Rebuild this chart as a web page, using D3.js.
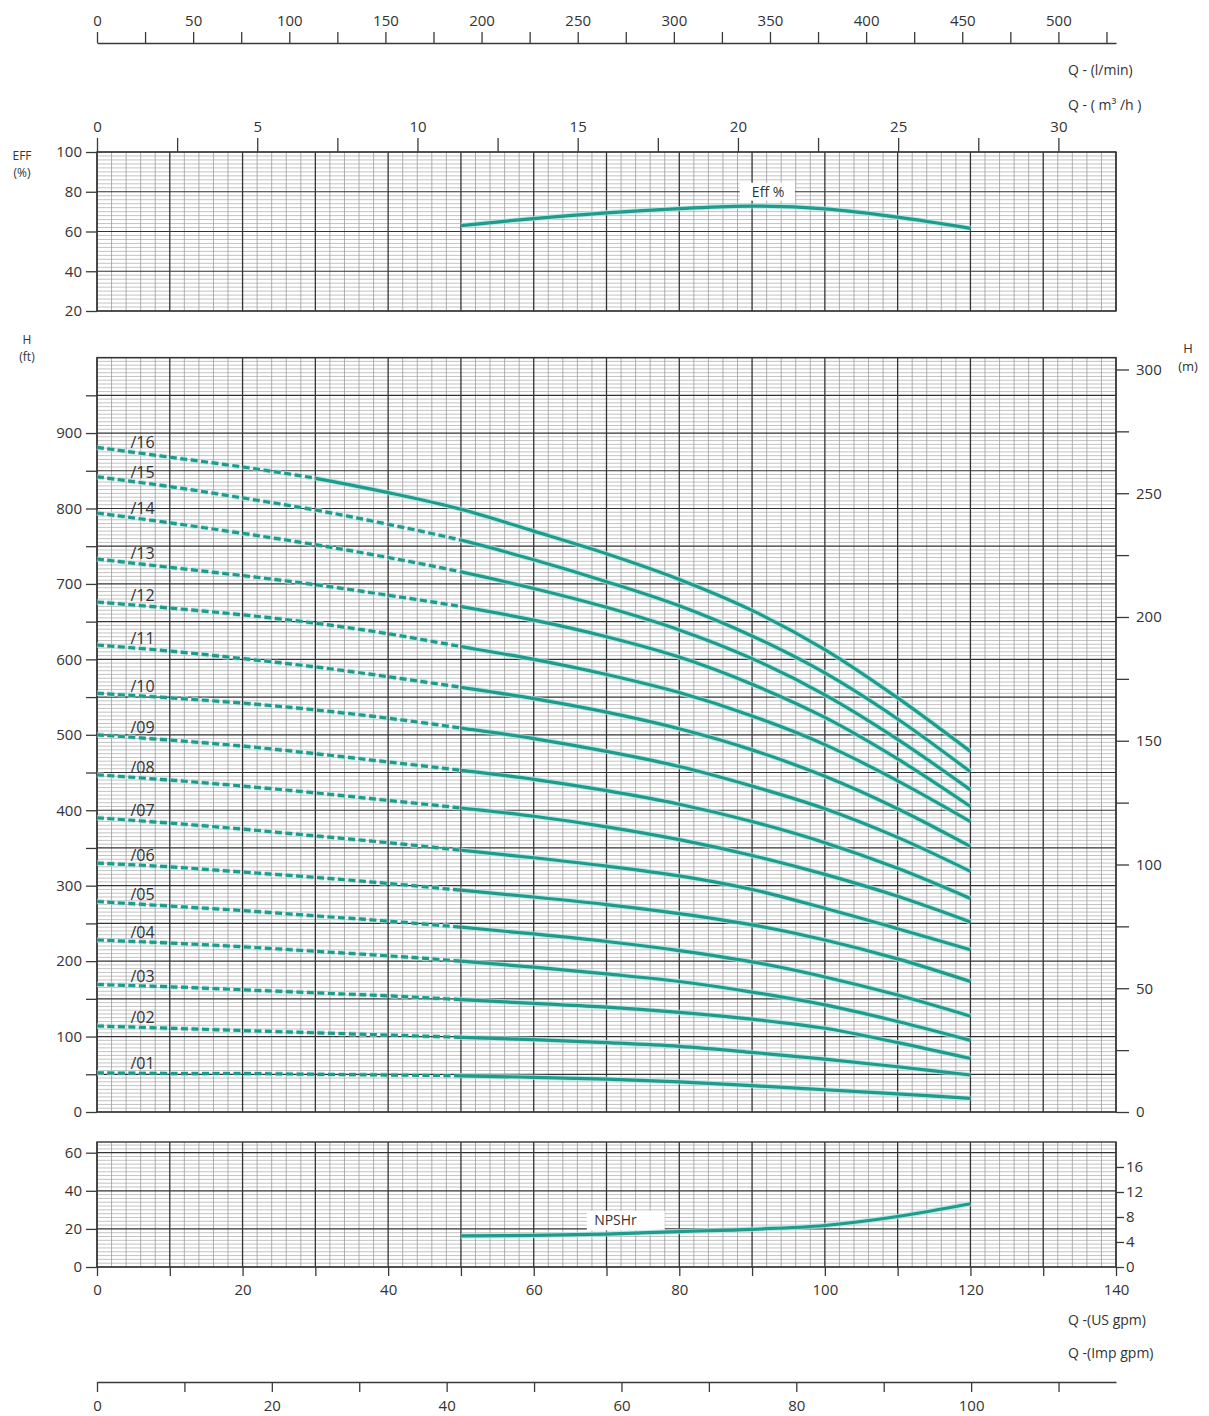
<!DOCTYPE html>
<html>
<head>
<meta charset="utf-8">
<script src="https://cdn.jsdelivr.net/npm/d3@7"></script>
<style>
  body { margin: 0; background: #fff; }
  svg text { font-family: "Open Sans", sans-serif; fill: #333; }
</style>
</head>
<body>
<svg id="chart" width="1209" height="1416"></svg>
<script>
// flow points (US gpm) the head curves are read at
const flow = [0, 10, 20, 30, 40, 50, 60, 70, 80, 90, 100, 110, 120];

// head in ft, one array per number of stages
const head01 = [52, 51, 51, 50, 49, 48, 46, 43.5, 40, 35, 29.5, 24, 18];
const head02 = [114, 111, 108, 105, 102, 99, 96, 92, 87, 79, 70, 60, 49];
const head03 = [169, 166, 162, 158, 154, 149, 144, 139, 132, 123, 111, 92, 71];
const head04 = [228, 224, 219, 213, 207, 200, 192, 183, 173, 159, 142, 120, 95];
const head05 = [279, 273, 267, 260, 253, 245, 236, 226, 214, 199, 179, 155, 127];
const head06 = [330, 325, 318, 311, 303, 294, 285, 275, 263, 248, 228, 203, 173];
const head07 = [390, 383, 375, 366, 357, 347, 337, 326, 313, 295, 270, 243, 215];
const head08 = [447, 440, 432, 423, 413, 403, 392, 378, 361, 340, 315, 286, 252];
const head09 = [500, 493, 485, 475, 464, 453, 441, 426, 408, 385, 357, 323, 283];
const head10 = [555, 549, 542, 533, 522, 509, 495, 478, 458, 432, 402, 364, 319];
const head11 = [619, 611, 601, 590, 577, 563, 548, 530, 508, 480, 445, 402, 352];
const head12 = [676, 668, 659, 648, 634, 617, 600, 580, 556, 525, 487, 439, 385];
const head13 = [733, 722, 711, 699, 685, 670, 652, 630, 603, 567, 523, 468, 405];
const head14 = [794, 781, 767, 752, 735, 716, 694, 669, 639, 601, 553, 494, 427];
const head15 = [842, 829, 814, 798, 779, 758, 732, 703, 671, 631, 582, 521, 451];
const head16 = [881, 868, 855, 840, 821, 799, 770, 740, 706, 665, 613, 549, 478];

const stageLabels = ["/01", "/02", "/03", "/04", "/05", "/06", "/07", "/08",
                     "/09", "/10", "/11", "/12", "/13", "/14", "/15", "/16"];
// curve is dashed from 0 up to this flow (gpm)
const dashedUntil = [50, 50, 50, 50, 50, 50, 50, 50, 50, 50, 50, 50, 50, 50, 50, 30];

// efficiency and NPSHr
const effFlow = [50, 60, 70, 80, 90, 100, 110, 120];
const effValues = [63, 66.5, 69.4, 71.5, 72.8, 71.4, 67.2, 61.6];
const npshFlow = [50, 60, 70, 80, 90, 100, 110, 120];
const npshFt = [16.3, 16.6, 17.3, 18.6, 19.8, 21.8, 26.5, 33.2];

// tick labels
const lminTicks = [0, 25, 50, 75, 100, 125, 150, 175, 200, 225, 250, 275, 300, 325, 350, 375, 400, 425, 450, 475, 500, 525];
const m3hTicks = [0, 2.5, 5, 7.5, 10, 12.5, 15, 17.5, 20, 22.5, 25, 27.5, 30];
const effTicks = [20, 40, 60, 80, 100];
const ftTicks = [0, 50, 100, 150, 200, 250, 300, 350, 400, 450, 500, 550, 600, 650, 700, 750, 800, 850, 900, 950];
const mTicks = [0, 25, 50, 75, 100, 125, 150, 175, 200, 225, 250, 275, 300];
const npshFtTicks = [0, 20, 40, 60];
const npshMTicks = [0, 4, 8, 12, 16];
const gpmTicks = [0, 10, 20, 30, 40, 50, 60, 70, 80, 90, 100, 110, 120, 130, 140];
const impTicks = [0, 10, 20, 30, 40, 50, 60, 70, 80, 90, 100, 110];

const svg = d3.select("#chart");
const teal = "#1f9a8b";
const halo = "#a8e8e0";
const axisColor = "#3a3a3a";

const x = d3.scaleLinear().domain([0, 140]).range([97, 1116]);
const xLmin = d3.scaleLinear().domain([0, 140 * 3.78541]).range(x.range());
const xM3h = d3.scaleLinear().domain([0, 140 * 0.2271247]).range(x.range());
const xImp = d3.scaleLinear().domain([0, 140 / 1.20095]).range(x.range());

const yEff = d3.scaleLinear().domain([20, 100]).range([311, 152]);
const yH = d3.scaleLinear().domain([0, 1000]).range([1112, 357.6]);
const yHm = d3.scaleLinear().domain([0, 1000 * 0.3048]).range(yH.range());
const yN = d3.scaleLinear().domain([0, 20 / 0.3048]).range([1267, 1142]);
const yNm = d3.scaleLinear().domain([0, 20]).range(yN.range());

// paper grid for one panel
function drawGrid(y, minorStep, majorStep) {
  const g = svg.append("g");
  const [yb, yt] = y.range();
  const [d0, d1] = y.domain();
  const vMinor = d3.range(0, 71).map(i => i * 2).filter(d => d % 10);
  const vMajor = d3.range(0, 15).map(i => i * 10);
  const n = Math.floor((d1 - d0) / minorStep + 1e-6);
  const hAll = d3.range(0, n + 1).map(i => d0 + i * minorStep);
  const isMajor = d => Math.abs((d - d0) / majorStep - Math.round((d - d0) / majorStep)) < 1e-6;
  const hMinor = hAll.filter(d => !isMajor(d));
  const hMajor = hAll.filter(isMajor);

  g.selectAll(null).data(hMinor).join("line")
    .attr("x1", x(0)).attr("x2", x(140))
    .attr("y1", d => y(d)).attr("y2", d => y(d))
    .attr("stroke", "#b4b4b4").attr("stroke-width", 0.8);
  g.selectAll(null).data(vMinor).join("line")
    .attr("x1", d => x(d)).attr("x2", d => x(d))
    .attr("y1", yb).attr("y2", yt)
    .attr("stroke", "#9c9c9c").attr("stroke-width", 0.8);
  g.selectAll(null).data(hMajor).join("line")
    .attr("x1", x(0)).attr("x2", x(140))
    .attr("y1", d => y(d)).attr("y2", d => y(d))
    .attr("stroke", "#333").attr("stroke-width", 1.2);
  g.selectAll(null).data(vMajor).join("line")
    .attr("x1", d => x(d)).attr("x2", d => x(d))
    .attr("y1", yb).attr("y2", yt)
    .attr("stroke", "#333").attr("stroke-width", 1.3);
  g.append("rect")
    .attr("x", x(0)).attr("y", yt)
    .attr("width", x(140) - x(0)).attr("height", yb - yt)
    .attr("fill", "none").attr("stroke", "#333").attr("stroke-width", 1.4);
}

drawGrid(yEff, 2, 20);
drawGrid(yH, 5, 50);
drawGrid(yN, 2, 20);

function styleAxis(g, keepDomain) {
  g.attr("font-family", "'Open Sans', sans-serif").attr("font-size", 15).attr("color", axisColor);
  g.selectAll("line").attr("stroke-width", 1.3);
  g.select(".domain").attr("stroke-width", 1.3);
  if (!keepDomain) g.select(".domain").remove();
  g.selectAll("text").attr("fill", "#333");
}

// top: l/min
svg.append("g").attr("transform", "translate(0,43)")
  .call(d3.axisTop(xLmin).tickValues(lminTicks).tickSize(11).tickSizeOuter(0).tickPadding(6)
    .tickFormat(d => d % 50 ? "" : d))
  .call(g => styleAxis(g, true));

// m3/h on top of the efficiency panel
svg.append("g").attr("transform", "translate(0," + yEff(100) + ")")
  .call(d3.axisTop(xM3h).tickValues(m3hTicks).tickSize(14).tickPadding(6)
    .tickFormat(d => d % 5 ? "" : d))
  .call(g => styleAxis(g, false));

// efficiency left
svg.append("g").attr("transform", "translate(" + x(0) + ",0)")
  .call(d3.axisLeft(yEff).tickValues(effTicks).tickSize(11).tickPadding(4))
  .call(g => styleAxis(g, false));

// head ft / m
svg.append("g").attr("transform", "translate(" + x(0) + ",0)")
  .call(d3.axisLeft(yH).tickValues(ftTicks).tickSize(11).tickPadding(4)
    .tickFormat(d => d % 100 ? "" : d))
  .call(g => styleAxis(g, false));
svg.append("g").attr("transform", "translate(" + x(140) + ",0)")
  .call(d3.axisRight(yHm).tickValues(mTicks).tickSize(13).tickPadding(7)
    .tickFormat(d => d % 50 ? "" : d))
  .call(g => styleAxis(g, false));

// NPSH ft / m
svg.append("g").attr("transform", "translate(" + x(0) + ",0)")
  .call(d3.axisLeft(yN).tickValues(npshFtTicks).tickSize(11).tickPadding(4))
  .call(g => styleAxis(g, false));
svg.append("g").attr("transform", "translate(" + x(140) + ",0)")
  .call(d3.axisRight(yNm).tickValues(npshMTicks).tickSize(8).tickPadding(2))
  .call(g => styleAxis(g, false));

// US gpm under NPSH panel
svg.append("g").attr("transform", "translate(0," + yN(0) + ")")
  .call(d3.axisBottom(x).tickValues(gpmTicks).tickSize(9).tickPadding(8)
    .tickFormat(d => d % 20 ? "" : d))
  .call(g => styleAxis(g, false));

// Imp gpm
svg.append("g").attr("transform", "translate(0,1382)")
  .call(d3.axisBottom(xImp).tickValues(impTicks).tickSize(10).tickSizeOuter(0).tickPadding(8)
    .tickFormat(d => d % 20 ? "" : d))
  .call(g => styleAxis(g, true));

// axis titles
const titles = [
  { t: "Q - (l/min)", x: 1068, y: 75, a: "start", s: 14 },
  { t: "Q - ( m\u00b3 /h )", x: 1068, y: 110, a: "start", s: 14 },
  { t: "EFF", x: 22, y: 160, a: "middle", s: 12 },
  { t: "(%)", x: 22, y: 177, a: "middle", s: 12 },
  { t: "H", x: 27, y: 344, a: "middle", s: 12 },
  { t: "(ft)", x: 27, y: 361, a: "middle", s: 12 },
  { t: "H", x: 1188, y: 353, a: "middle", s: 13 },
  { t: "(m)", x: 1188, y: 371, a: "middle", s: 13 },
  { t: "Q -(US gpm)", x: 1068, y: 1325, a: "start", s: 14 },
  { t: "Q -(Imp gpm)", x: 1068, y: 1358, a: "start", s: 14 }
];
svg.append("g").selectAll("text").data(titles).join("text")
  .attr("x", d => d.x).attr("y", d => d.y)
  .attr("text-anchor", d => d.a)
  .attr("font-size", d => d.s)
  .text(d => d.t);

// head curves
const curves = [head01, head02, head03, head04, head05, head06, head07, head08,
                head09, head10, head11, head12, head13, head14, head15, head16];

const defs = svg.append("defs");
Array.from(new Set(dashedUntil)).forEach(q => {
  defs.append("clipPath").attr("id", "dash" + q).append("rect")
    .attr("x", 0).attr("y", 0).attr("width", x(q)).attr("height", 1416);
  defs.append("clipPath").attr("id", "solid" + q).append("rect")
    .attr("x", x(q)).attr("y", 0).attr("width", 1209 - x(q)).attr("height", 1416);
});

const headLine = d3.line()
  .x(d => x(d[0]))
  .y(d => yH(d[1]))
  .curve(d3.curveCatmullRom.alpha(0.5));

const curveG = svg.append("g").attr("fill", "none");
curves.forEach((vals, i) => {
  const pts = flow.map((q, j) => [q, vals[j]]);
  const q = dashedUntil[i];
  const dashG = curveG.append("g").attr("clip-path", "url(#dash" + q + ")");
  dashG.append("path").attr("d", headLine(pts))
    .attr("stroke", halo).attr("stroke-width", 5.5)
    .attr("stroke-dasharray", "7,3.5").attr("opacity", 0.7);
  dashG.append("path").attr("d", headLine(pts))
    .attr("stroke", teal).attr("stroke-width", 3.2)
    .attr("stroke-dasharray", "7,3.5");
  const solidG = curveG.append("g").attr("clip-path", "url(#solid" + q + ")");
  solidG.append("path").attr("d", headLine(pts))
    .attr("stroke", halo).attr("stroke-width", 5.5).attr("opacity", 0.7);
  solidG.append("path").attr("d", headLine(pts))
    .attr("stroke", teal).attr("stroke-width", 3.2);
});

svg.append("g").selectAll("text").data(curves).join("text")
  .attr("x", x(4.6))
  .attr("y", d => yH((d[0] + d[1]) / 2) - 4)
  .attr("font-size", 16)
  .text((d, i) => stageLabels[i]);

// efficiency curve
const effLine = d3.line().x(d => x(d[0])).y(d => yEff(d[1])).curve(d3.curveCatmullRom.alpha(0.5));
const effPts = effFlow.map((q, j) => [q, effValues[j]]);
svg.append("path").attr("d", effLine(effPts)).attr("fill", "none")
  .attr("stroke", halo).attr("stroke-width", 5.5).attr("opacity", 0.7);
svg.append("path").attr("d", effLine(effPts)).attr("fill", "none")
  .attr("stroke", teal).attr("stroke-width", 3.2);

svg.append("rect").attr("x", x(88.3)).attr("y", yEff(84.5))
  .attr("width", x(95.9) - x(88.3)).attr("height", yEff(75.5) - yEff(84.5))
  .attr("fill", "#fff");
svg.append("text").attr("x", x(92.2)).attr("y", yEff(80)).attr("dy", "0.35em")
  .attr("text-anchor", "middle").attr("font-size", 14).text("Eff %");

// NPSHr curve
const npshLine = d3.line().x(d => x(d[0])).y(d => yN(d[1])).curve(d3.curveCatmullRom.alpha(0.5));
const npshPts = npshFlow.map((q, j) => [q, npshFt[j]]);
svg.append("rect").attr("x", x(67.3)).attr("y", yN(29.5))
  .attr("width", x(78) - x(67.3)).attr("height", yN(19.2) - yN(29.5))
  .attr("fill", "#fff");
svg.append("path").attr("d", npshLine(npshPts)).attr("fill", "none")
  .attr("stroke", halo).attr("stroke-width", 5.5).attr("opacity", 0.7);
svg.append("path").attr("d", npshLine(npshPts)).attr("fill", "none")
  .attr("stroke", teal).attr("stroke-width", 3.2);
svg.append("text").attr("x", x(68.3)).attr("y", yN(24.7)).attr("dy", "0.35em")
  .attr("font-size", 14).text("NPSHr");
</script>
</body>
</html>
